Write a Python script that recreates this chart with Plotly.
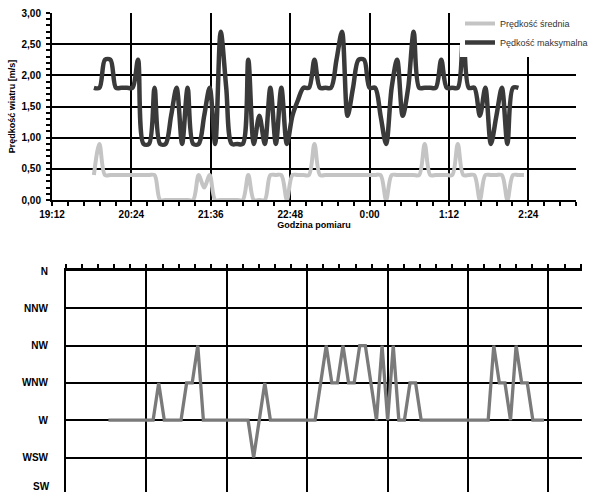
import pandas as pd
import plotly.graph_objects as go

# ---- data -------------------------------------------------------------
# sample times: every 5 minutes, 19:50 -> 02:20
times = pd.date_range("2000-01-01 19:50", "2000-01-02 02:20", freq="5min")

# mean wind speed [m/s]
v_mean = [
    0.4, 0.9, 0.4, 0.4, 0.4, 0.4, 0.4, 0.4, 0.4, 0.4,
    0.4, 0.4, 0.0, 0.0, 0.0, 0.0, 0.0, 0.0, 0.0, 0.4,
    0.2, 0.4, 0.0, 0.0, 0.0, 0.0, 0.0, 0.0, 0.4, 0.0,
    0.0, 0.0, 0.4, 0.4, 0.4, 0.0, 0.4, 0.4, 0.4, 0.4,
    0.9, 0.4, 0.4, 0.4, 0.4, 0.4, 0.4, 0.4, 0.4, 0.4,
    0.4, 0.4, 0.4, 0.0, 0.4, 0.4, 0.4, 0.4, 0.4, 0.4,
    0.9, 0.4, 0.4, 0.4, 0.4, 0.4, 0.9, 0.4, 0.4, 0.4,
    0.0, 0.4, 0.4, 0.4, 0.4, 0.0, 0.4, 0.4, 0.4,
]

# maximum wind speed [m/s]
v_max = [
    1.8, 1.8, 2.25, 2.25, 1.8, 1.8, 1.8, 1.8, 2.25, 0.9,
    0.9, 1.8, 0.9, 0.9, 1.35, 1.8, 0.9, 1.8, 0.9, 0.9,
    1.35, 1.8, 0.9, 2.7, 1.8, 0.9, 0.9, 0.9, 2.25, 0.9,
    1.35, 0.9, 1.8, 0.9, 1.8, 0.9, 1.35, 1.6, 1.8, 1.8,
    2.25, 1.8, 1.8, 1.8, 2.25, 2.7, 1.35, 1.8, 2.25, 2.25,
    1.8, 1.8, 1.35, 0.9, 1.8, 2.25, 1.35, 1.8, 2.7, 1.8,
    1.8, 1.8, 1.8, 2.25, 1.8, 1.8, 1.8, 2.7, 1.8, 1.8,
    1.35, 1.8, 0.9, 1.35, 1.8, 0.9, 1.8, 1.8,
]

# wind direction
directions = ["SW", "WSW", "W", "WNW", "NW", "NNW", "N"]
wind_dir = (
    ["W"] * 9 + ["WNW"] + ["W"] * 4 + ["WNW", "WNW", "NW"] + ["W"] * 9
    + ["WSW", "W", "WNW"] + ["W"] * 9
    + ["WNW", "NW", "WNW", "WNW", "NW", "WNW", "WNW", "NW", "NW", "WNW",
       "W", "NW", "W", "NW", "W", "W", "WNW", "WNW"]
    + ["W"] * 13 + ["NW", "WNW", "WNW", "W", "NW", "WNW", "WNW"] + ["W"] * 3
)

speed_ticks = [0, 0.5, 1.0, 1.5, 2.0, 2.5, 3.0]
time_tick0 = "2000-01-01 19:12"
top_range = ["2000-01-01 19:12", "2000-01-02 03:07:12"]
bottom_range = ["2000-01-01 19:12", "2000-01-02 02:54"]

# ---- styling ----------------------------------------------------------
W, H = 605, 492
FONT = "Liberation Sans"
MAJOR = 72 * 60 * 1000      # 72 min
MINOR = MAJOR / 5           # 14.4 min


def px_x(p):
    return p / W


def px_y(p):
    return 1 - p / H


fig = go.Figure()

fig.add_trace(go.Scatter(
    x=times[:len(v_mean)], y=v_mean, name="Prędkość średnia", mode="lines",
    line=dict(color="#c4c4c4", width=4, shape="spline", smoothing=0.9),
    xaxis="x", yaxis="y",
))
fig.add_trace(go.Scatter(
    x=times[:len(v_max)], y=v_max, name="Pędkość maksymalna", mode="lines",
    line=dict(color="#3a3a3a", width=4.5, shape="spline", smoothing=0.9),
    xaxis="x", yaxis="y",
))
fig.add_trace(go.Scatter(
    x=times[:len(wind_dir)], y=wind_dir, mode="lines", showlegend=False,
    line=dict(color="#7a7a7a", width=3.3),
    xaxis="x2", yaxis="y2",
))

tickfont = dict(family=FONT, size=10, color="black", weight="bold")
grid = dict(showgrid=True, gridcolor="black", gridwidth=2)

fig.update_layout(
    width=W, height=H,
    margin=dict(l=0, r=0, t=0, b=0, autoexpand=False),
    paper_bgcolor="white", plot_bgcolor="white",
    separators=",.",
    showlegend=True,
    legend=dict(
        x=px_x(460), y=px_y(9), xanchor="left", yanchor="top",
        bgcolor="white", font=dict(family=FONT, size=9, color="#333333"),
        itemwidth=30,
    ),
    # speed chart
    xaxis=dict(
        domain=[px_x(52), px_x(576)], anchor="y", type="date",
        range=top_range, tick0=time_tick0, dtick=MAJOR, tickformat="%-H:%M",
        ticks="outside", ticklen=4, tickwidth=1.5, tickcolor="black",
        minor=dict(dtick=MINOR, ticks="outside", ticklen=4, tickwidth=1.5,
                   tickcolor="black", showgrid=False),
        showline=True, linecolor="black", linewidth=2,
        tickfont=tickfont, zeroline=False, **grid,
        title=dict(text="Godzina pomiaru", standoff=0,
                   font=dict(family=FONT, size=9, color="black", weight="bold")),
    ),
    yaxis=dict(
        domain=[px_y(200), px_y(13)], anchor="x", range=[0, 3],
        tickvals=speed_ticks, tickformat=".2f",
        ticks="outside", ticklen=4, tickwidth=1.5, tickcolor="black",
        minor=dict(dtick=0.1, ticks="outside", ticklen=4, tickwidth=1.5,
                   tickcolor="black", showgrid=False),
        showline=True, linecolor="black", linewidth=2,
        tickfont=tickfont, zeroline=False, ticklabelstandoff=3, **grid,
        title=dict(text="Prędkość wiatru [m/s]", standoff=4,
                   font=dict(family=FONT, size=9, color="black", weight="bold")),
    ),
    # direction chart
    xaxis2=dict(
        domain=[px_x(66), px_x(582)], anchor="y2", type="date", side="top",
        range=bottom_range, tick0=time_tick0, dtick=MAJOR,
        showticklabels=False,
        ticks="outside", ticklen=4, tickwidth=1.5, tickcolor="black",
        minor=dict(dtick=MINOR, ticks="outside", ticklen=4, tickwidth=1.5,
                   tickcolor="black", showgrid=False),
        showline=True, linecolor="black", linewidth=2.5,
        zeroline=False, **grid,
    ),
    yaxis2=dict(
        domain=[0, px_y(271)], anchor="x2", type="category",
        categoryorder="array", categoryarray=directions,
        range=[0.075, 6],
        showline=True, linecolor="black", linewidth=2,
        ticks="", tickfont=tickfont, ticklabelstandoff=14, **grid,
    ),
)

# lowest direction label, just above the bottom edge of the page
fig.add_annotation(
    x=px_x(52), xref="paper", xanchor="right",
    y=px_y(486), yref="paper", yanchor="middle",
    text=directions[0], showarrow=False, font=tickfont,
)

fig.write_html("out.html")
